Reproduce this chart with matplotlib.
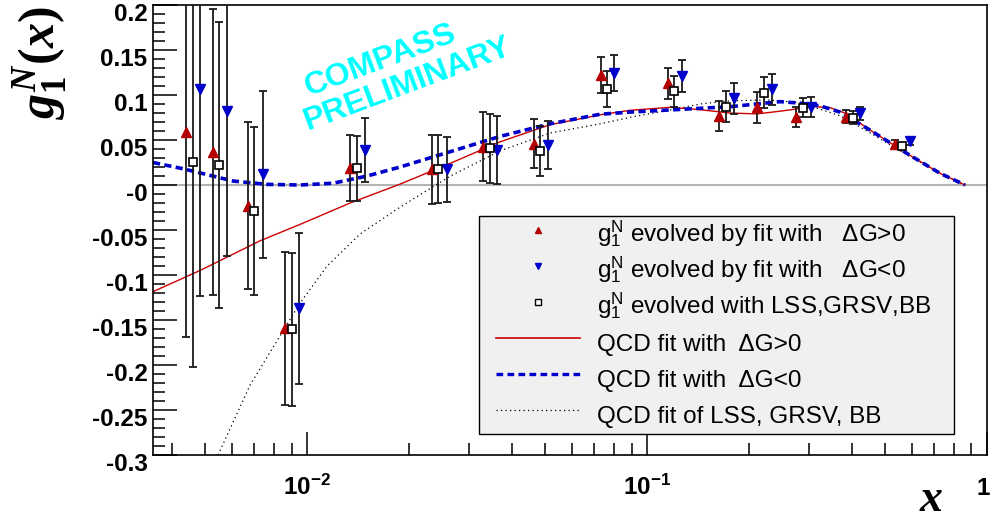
import matplotlib
matplotlib.use("Agg")
import matplotlib.pyplot as plt
from matplotlib.lines import Line2D
from matplotlib.legend_handler import HandlerLine2D
from matplotlib.ticker import FixedLocator, FixedFormatter, MultipleLocator, LogLocator, NullFormatter
from matplotlib.transforms import ScaledTranslation

plt.rcParams['font.family'] = ['Liberation Sans', 'DejaVu Sans']
plt.rcParams['mathtext.fontset'] = 'custom'
plt.rcParams['mathtext.it'] = 'Liberation Serif:italic:bold'
plt.rcParams['mathtext.rm'] = 'Liberation Serif:bold'
plt.rcParams['mathtext.bf'] = 'Liberation Sans:bold'
plt.rcParams['mathtext.sf'] = 'Liberation Sans'

# ---------------- data ----------------
# g1^N evolved by fit with dG>0 (red up triangles)
x_pos = [0.0044, 0.00527, 0.0067, 0.00861, 0.01337, 0.0233, 0.0329, 0.0464,
         0.0731, 0.115, 0.163, 0.211, 0.274, 0.384, 0.536]
g_pos = [0.059, 0.037, -0.023, -0.159, 0.019, 0.0174, 0.0426, 0.046,
         0.122, 0.113, 0.0767, 0.0863, 0.076, 0.076, 0.046]
e_pos = [0.228, 0.159, 0.093, 0.085, 0.037, 0.038, 0.038, 0.0275,
         0.020, 0.0175, 0.0165, 0.017, 0.011, 0.007, 0.004]

# g1^N evolved by fit with dG<0 (blue down triangles)
x_neg = [0.00484, 0.0058, 0.0074, 0.00947, 0.01482, 0.0258, 0.0363, 0.0511,
         0.0802, 0.127, 0.180, 0.233, 0.303, 0.423, 0.594]
g_neg = [0.107, 0.082, 0.012, -0.137, 0.039, 0.0174, 0.039, 0.0444,
         0.1248, 0.121, 0.0963, 0.1063, 0.0863, 0.0796, 0.049]
e_neg = [0.230, 0.161, 0.093, 0.084, 0.036, 0.036, 0.038, 0.027,
         0.020, 0.0175, 0.0175, 0.017, 0.011, 0.007, 0.004]

# g1^N evolved with LSS, GRSV, BB (open squares)
x_lss = [0.00461, 0.0055, 0.0070, 0.00902, 0.01406, 0.0243, 0.0345, 0.0484,
         0.0761, 0.120, 0.171, 0.221, 0.288, 0.403, 0.561]
g_lss = [0.026, 0.022, -0.029, -0.160, 0.0185, 0.018, 0.0407, 0.038,
         0.107, 0.104, 0.087, 0.1026, 0.086, 0.075, 0.043]
e_lss = [0.228, 0.159, 0.093, 0.085, 0.036, 0.038, 0.038, 0.028,
         0.020, 0.0175, 0.017, 0.017, 0.0105, 0.007, 0.004]

# QCD fit with dG>0 (red solid)
fitp_x = [0.00352, 0.00484, 0.00727, 0.00954, 0.01338, 0.01877, 0.02634, 0.03695,
          0.05185, 0.07274, 0.08913, 0.1168, 0.1403, 0.1754, 0.2106, 0.2461,
          0.2818, 0.312, 0.345, 0.382, 0.4529, 0.5935, 0.7274, 0.8617]
fitp_y = [-0.1185, -0.095, -0.062, -0.0437, -0.020, 0.001, 0.024, 0.048,
          0.067, 0.078, 0.083, 0.0863, 0.084, 0.080, 0.079, 0.082,
          0.085, 0.087, 0.086, 0.080, 0.061, 0.033, 0.013, 0.0]

# QCD fit with dG<0 (blue dashed)
fitn_x = [0.00352, 0.00432, 0.00606, 0.00763, 0.00954, 0.01193, 0.01502, 0.01877,
          0.02634, 0.03695, 0.05185, 0.07274, 0.08913, 0.1251, 0.1754, 0.2461,
          0.2818, 0.3228, 0.3695, 0.4529, 0.5935, 0.7274, 0.8617]
fitn_y = [0.025, 0.018, 0.0044, 0.0007, 0.0, 0.002, 0.010, 0.020,
          0.037, 0.054, 0.068, 0.0786, 0.081, 0.084, 0.087, 0.0926,
          0.091, 0.088, 0.081, 0.061, 0.033, 0.013, 0.0]

# QCD fit of LSS, GRSV, BB (black dotted)
fitl_x = [0.00547, 0.0068, 0.00954, 0.01145, 0.01432, 0.0184, 0.0205, 0.02634, 0.03695,
          0.0519, 0.07274, 0.08913, 0.1251, 0.1432, 0.1754, 0.2254, 0.2818, 0.3695,
          0.4529, 0.5662, 0.7274, 0.8617]
fitl_y = [-0.3, -0.222, -0.131, -0.090, -0.0544, -0.0267, -0.0156, 0.0098, 0.038,
          0.0578, 0.068, 0.0752, 0.0855, 0.090, 0.0935, 0.0945, 0.0915, 0.077,
          0.058, 0.036, 0.013, 0.0]

y_ticks = [-0.3, -0.25, -0.2, -0.15, -0.1, -0.05, 0.0, 0.05, 0.1, 0.15, 0.2]
y_ticklabels = ['-0.3', '-0.25', '-0.2', '-0.15', '-0.1', '-0.05', '-0', '0.05', '0.1', '0.15', '0.2']
x_ticks = [0.01, 0.1, 1.0]
x_ticklabels = [r'$\mathbf{10^{-2}}$', r'$\mathbf{10^{-1}}$', r'$\mathbf{1}$']

labels = [r'g$_{\mathsf{1}}^{\mathsf{N}}$ evolved by fit with   ΔG>0',
          r'g$_{\mathsf{1}}^{\mathsf{N}}$ evolved by fit with   ΔG<0',
          r'g$_{\mathsf{1}}^{\mathsf{N}}$ evolved with LSS,GRSV,BB',
          'QCD fit with  ΔG>0',
          'QCD fit with  ΔG<0',
          'QCD fit of LSS, GRSV, BB']

RED = '#b40000'
BLUE = '#0000cc'
LRED = '#cc0000'

# ---------------- figure ----------------
fig = plt.figure(figsize=(9.9, 5.23), dpi=100)
ax = fig.add_axes([153/990, 1 - 455/523, 834/990, 450/523])
ax.set_xscale('log')
ax.set_xlim(0.00352, 1.0)
ax.set_ylim(-0.3, 0.2)

ax.axhline(0.0, color='#b4b4b4', lw=1.5, zorder=1)

ax.plot(fitl_x, fitl_y, color='black', lw=0.9, linestyle=(0, (1, 2.6)), zorder=2)
ax.plot(fitp_x, fitp_y, color=LRED, lw=1.0, zorder=2)
ax.plot(fitn_x, fitn_y, color=BLUE, lw=2.6, linestyle=(0, (2.0, 1.2)), zorder=2)

ebkw = dict(fmt='none', ecolor='#1a1a1a', elinewidth=1.3, capsize=2.6, capthick=1.3, zorder=3)
ax.errorbar(x_pos, g_pos, yerr=e_pos, **ebkw)
ax.errorbar(x_neg, g_neg, yerr=e_neg, **ebkw)
ax.errorbar(x_lss, g_lss, yerr=e_lss, **ebkw)

ax.plot(x_pos, g_pos, linestyle='none', marker='^', ms=7.5, color=RED, mec=RED, zorder=4)
ax.plot(x_neg, g_neg, linestyle='none', marker='v', ms=7.5, color=BLUE, mec=BLUE, zorder=4)
ax.plot(x_lss, g_lss, linestyle='none', marker='s', ms=6.0, mfc='white', mec='black', mew=1.2, zorder=4)

# axes styling
for s in ax.spines.values():
    s.set_linewidth(1.2)
ax.yaxis.set_major_locator(FixedLocator(y_ticks))
ax.yaxis.set_major_formatter(FixedFormatter(y_ticklabels))
ax.yaxis.set_minor_locator(MultipleLocator(0.01))
ax.xaxis.set_major_locator(FixedLocator(x_ticks))
ax.xaxis.set_major_formatter(FixedFormatter(x_ticklabels))
ax.xaxis.set_minor_locator(LogLocator(base=10, subs=[2, 3, 4, 5, 6, 7, 8, 9], numticks=20))
ax.xaxis.set_minor_formatter(NullFormatter())
ax.tick_params(which='both', direction='in', top=False, right=False, width=1.1, color='black')
ax.tick_params(axis='y', which='major', length=17, pad=4, labelsize=17.5)
ax.tick_params(axis='y', which='minor', length=8.5)
ax.tick_params(axis='x', which='major', length=16.5, pad=28.5, labelsize=17.5)
ax.tick_params(axis='x', which='minor', length=8.5)
for lbl in ax.get_yticklabels():
    lbl.set_fontweight('bold')
    lbl.set_transform(lbl.get_transform() + ScaledTranslation(0, -5/72, fig.dpi_scale_trans))
xlbls = ax.get_xticklabels()
for lbl in xlbls:
    lbl.set_verticalalignment('baseline')
xlbls[-1].set_transform(xlbls[-1].get_transform() + ScaledTranslation(-4/100, 0, fig.dpi_scale_trans))

# legend
handles = [Line2D([], [], linestyle='none', marker='^', ms=5, color=RED),
           Line2D([], [], linestyle='none', marker='v', ms=5, color=BLUE),
           Line2D([], [], linestyle='none', marker='s', ms=4.5, mfc='white', mec='black', mew=1.0),
           Line2D([], [], color=LRED, lw=1.2),
           Line2D([], [], color=BLUE, lw=2.4, linestyle=(0, (2.0, 1.3))),
           Line2D([], [], color='black', lw=0.9, linestyle=(0, (1, 2.6)))]
leg_x0, leg_x1, leg_y0, leg_y1 = 479/990, 954/990, 1 - 433/523, 1 - 216/523
leg = ax.legend(handles, labels, loc='upper left',
                bbox_to_anchor=(leg_x0, leg_y0, leg_x1 - leg_x0, leg_y1 - leg_y0),
                mode='expand',
                bbox_transform=fig.transFigure, borderaxespad=0, fontsize=17.5,
                handlelength=4.1, handleheight=1.87, handletextpad=0.7,
                labelspacing=0.02, borderpad=0.05,
                handler_map={Line2D: HandlerLine2D(xpad=0.66)},
                fancybox=False, framealpha=1, facecolor='#f0f0f0', edgecolor='black')
leg.get_frame().set_linewidth(1.0)
leg.set_zorder(10)

# texts
fig.text(381/990, 1 - 61/523, 'COMPASS', color='#00ffff', fontsize=23, fontweight='bold',
         rotation=20.5, ha='center', va='center', rotation_mode='anchor')
fig.text(408/990, 1 - 84/523, 'PRELIMINARY', color='#00ffff', fontsize=23, fontweight='bold',
         rotation=20.5, ha='center', va='center', rotation_mode='anchor')

fig.text(41/990, 1 - 63/523, r'$g_{\mathit{1}}^{N}(x)$', fontsize=36, rotation=90,
         ha='center', va='center')
fig.text(931/990, 1 - 511/523, 'x', family='Liberation Serif', fontweight='bold', style='italic',
         fontsize=33, ha='center', va='baseline')

fig.savefig('out.png', dpi=100)
